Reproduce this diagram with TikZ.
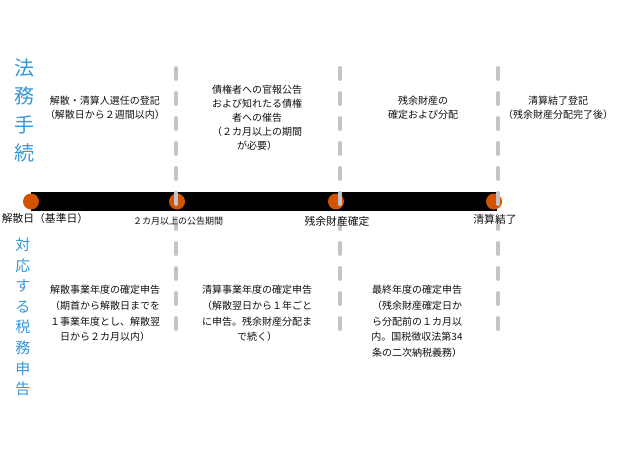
\documentclass[tikz,border=0pt]{standalone}
\usepackage{fontspec}
\setmainfont{Noto Sans CJK JP}
\definecolor{hblue}{HTML}{3498DB}
\definecolor{dotorange}{HTML}{D35400}
\definecolor{dashgray}{HTML}{C4C4C8}
\definecolor{txt}{HTML}{111111}
\tikzset{
  ttext/.style={align=center, text=txt, inner sep=0pt, font=\fontsize{10}{14}\selectfont},
  btext/.style={align=center, text=txt, inner sep=0pt, font=\fontsize{10}{15.7}\selectfont},
  lbl/.style={text=txt, inner sep=0pt, font=\fontsize{10.8}{12}\selectfont},
  dot/.style={circle, fill=dotorange, minimum size=16pt, inner sep=0pt},
  sep/.style={draw=dashgray, line width=4pt, line cap=round, dash pattern=on 11pt off 14pt},
}
\begin{document}
\begin{tikzpicture}[x=1pt,y=-1pt]
\useasboundingbox (0,0) rectangle (640,450);
% bar
\fill[black] (31,192) rectangle (497,211);
\node[dot] (d0) at (31,201.5) {};
\node[dot] (d1) at (177,201.5) {};
\node[dot] (d2) at (336,201.5) {};
\node[dot] (d3) at (494,201.5) {};
% dashed separators
\coordinate (s1t) at (176,68); \coordinate (s1b) at (176,340);
\coordinate (s2t) at (340,68); \coordinate (s2b) at (340,340);
\coordinate (s3t) at (498,68); \coordinate (s3b) at (498,340);
\draw[sep] (s1t) -- (s1b);
\draw[sep] (s2t) -- (s2b);
\draw[sep] (s3t) -- (s3b);
% labels under bar
\node[lbl] (l0) at (45,218) {解散日（基準日）};
\node[lbl, font=\fontsize{9}{10}\selectfont] (l1) at (178,221) {２カ月以上の公告期間};
\node[lbl] (l2) at (337,221) {残余財産確定};
\node[lbl] (l3) at (495,219) {清算結了};
% side headings
\node[align=center, text=hblue, inner sep=0pt, font=\fontsize{20}{28.5}\selectfont] (h1) at (24,110.5) {法\\務\\手\\続};
\node[align=center, text=hblue, inner sep=0pt, font=\fontsize{15}{20.6}\selectfont] (h2) at (23,317) {対\\応\\す\\る\\税\\務\\申\\告};
% top texts
\node[ttext] (t1) at (105,107.5) {解散・清算人選任の登記\\（解散日から２週間以内）};
\node[ttext] (t2) at (257,117.5) {債権者への官報公告\\および知れたる債権\\者への催告\\（２カ月以上の期間\\が必要）};
\node[ttext] (t3) at (423,107.5) {残余財産の\\確定および分配};
\node[ttext] (t4) at (558,107.5) {清算結了登記\\（残余財産分配完了後）};
% bottom texts
\node[btext] (b1) at (105,313.5) {解散事業年度の確定申告\\（期首から解散日までを\\１事業年度とし、解散翌\\日から２カ月以内）};
\node[btext] (b2) at (257,313.5) {清算事業年度の確定申告\\（解散翌日から１年ごと\\に申告。残余財産分配ま\\で続く）};
\node[btext] (b3) at (417,321.5) {最終年度の確定申告\\（残余財産確定日か\\ら分配前の１カ月以\\内。国税徴収法第34\\条の二次納税義務）};
\end{tikzpicture}
\end{document}
